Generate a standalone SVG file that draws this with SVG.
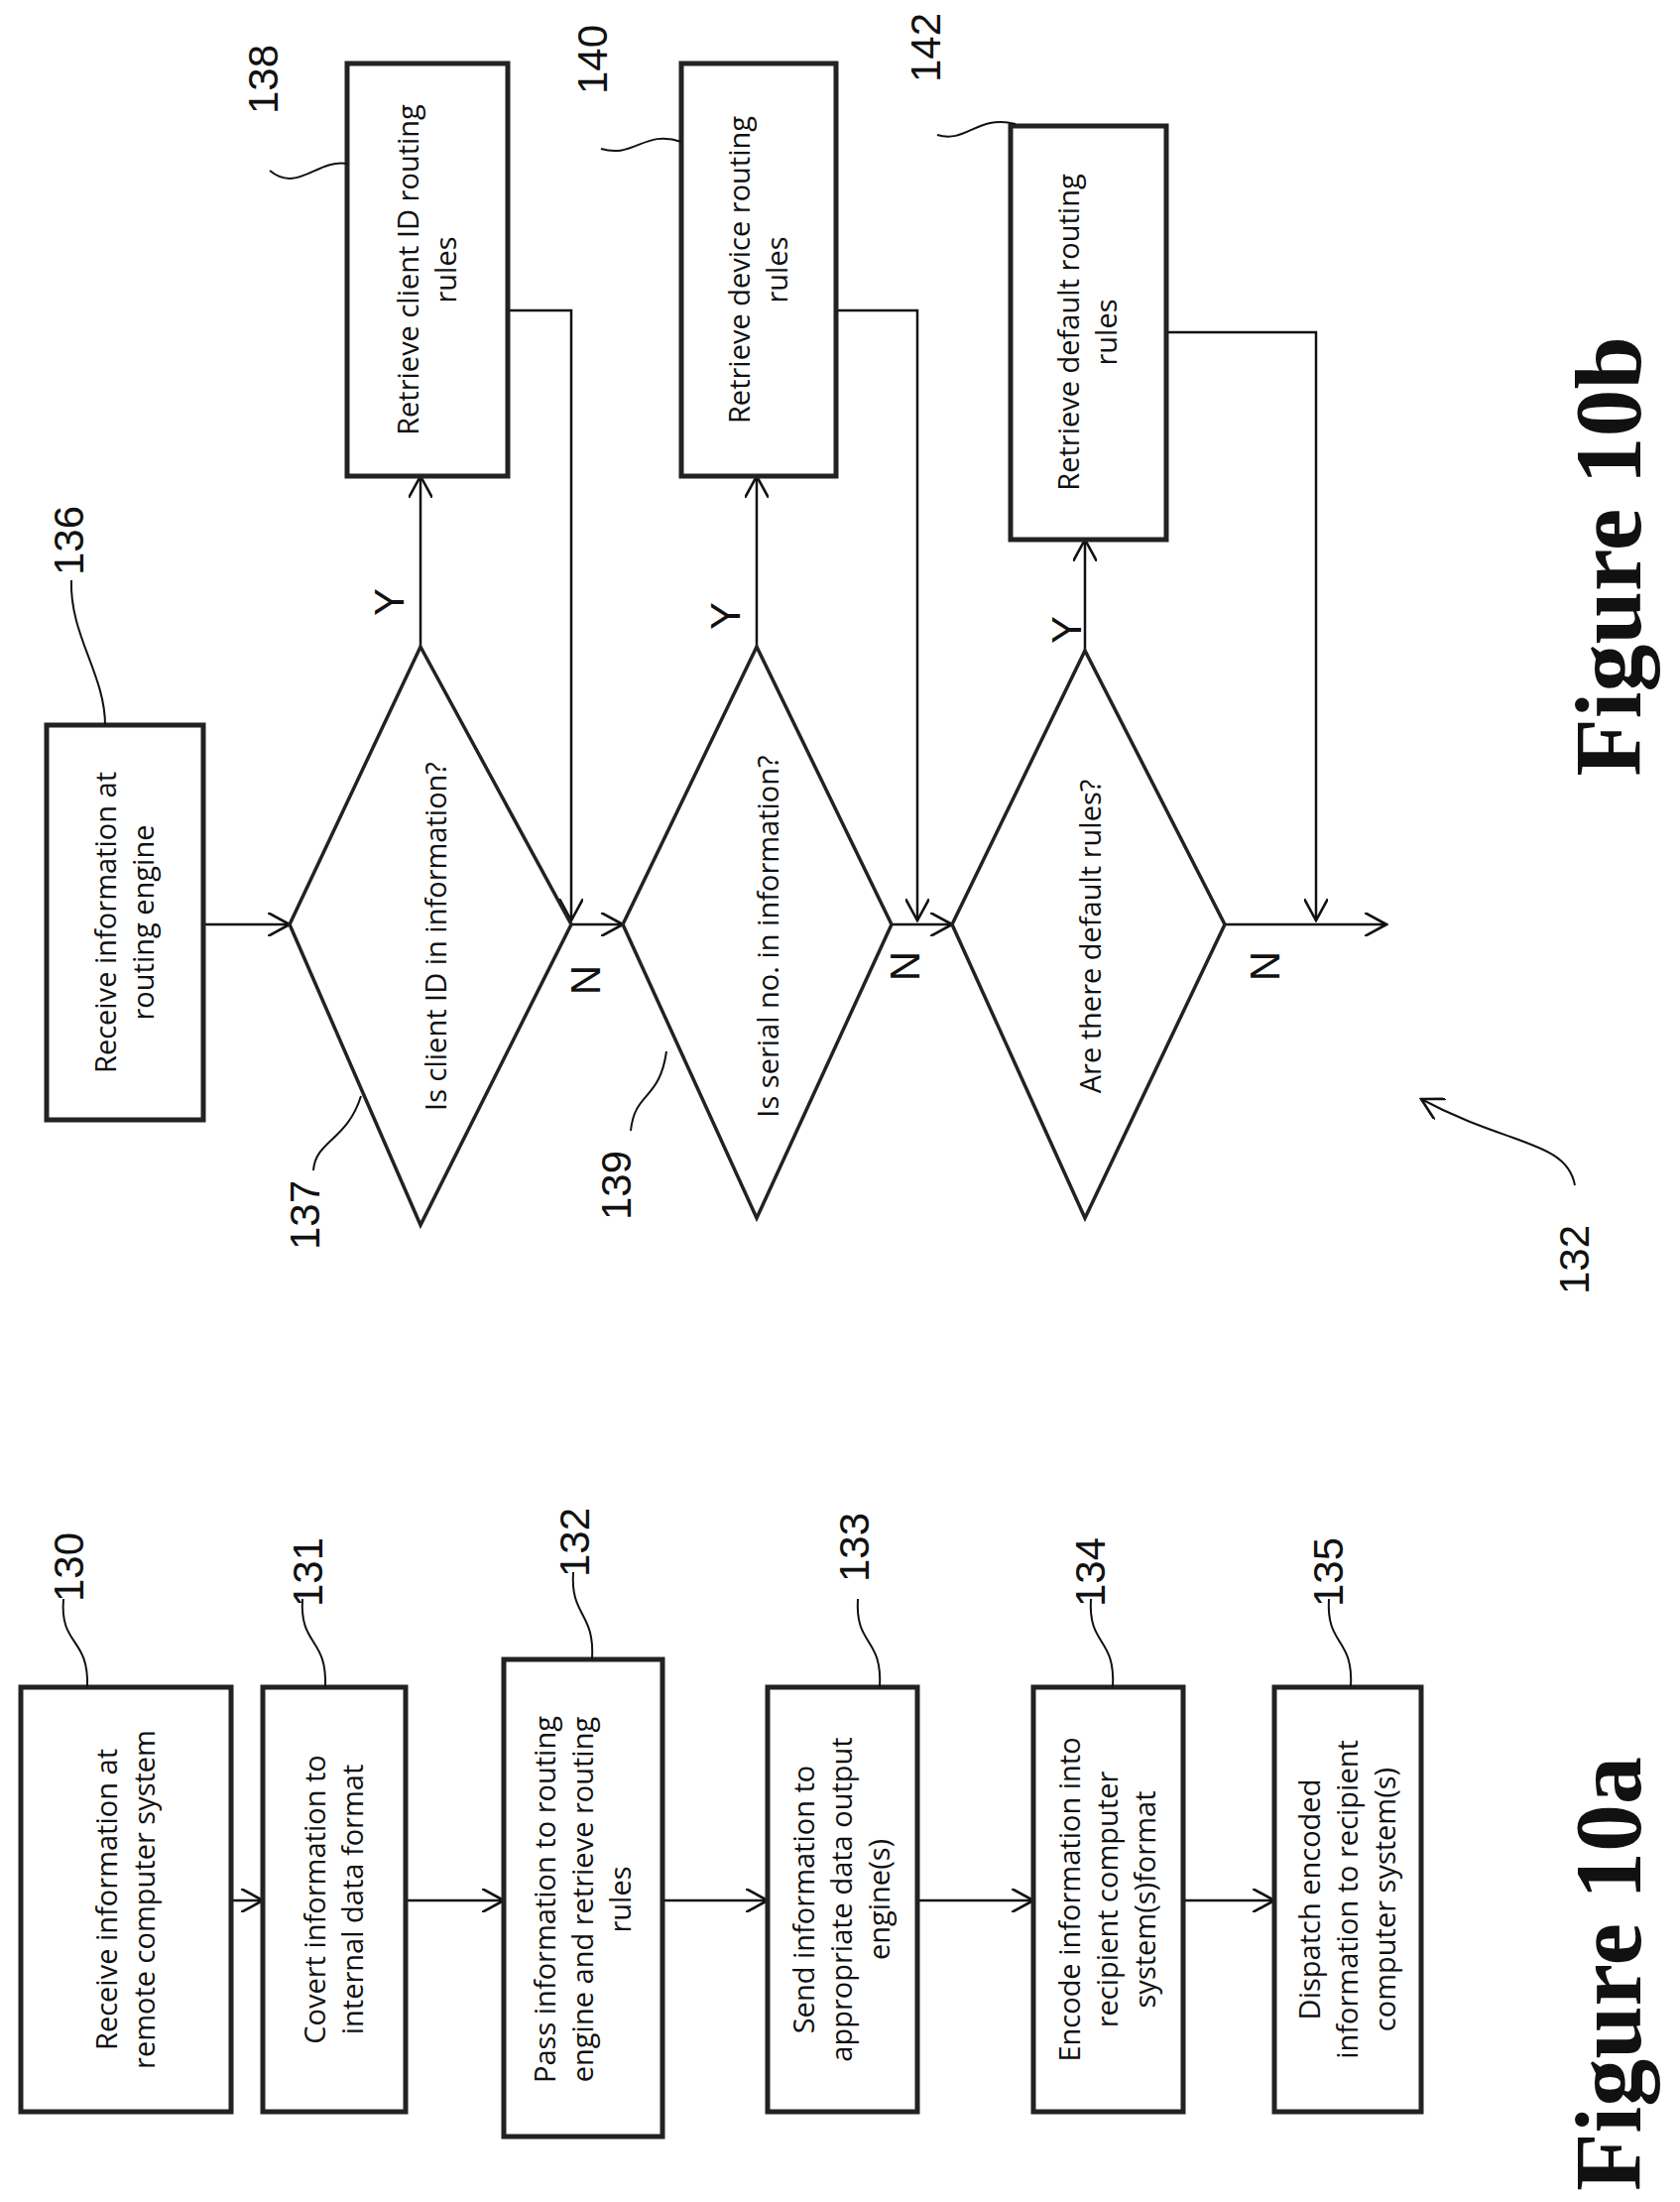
<svg xmlns="http://www.w3.org/2000/svg" width="1694" height="2220" viewBox="0 0 1694 2220">
<style>
.box{fill:#fff;stroke:#222;stroke-width:5}
.dia{fill:#fff;stroke:#222;stroke-width:3.5}
.c{fill:none;stroke:#111;stroke-width:2.5}
.ld{fill:none;stroke:#111;stroke-width:2}
.t{font-family:"Open Sans","Noto Sans",sans-serif;font-size:29px;fill:#111;text-anchor:middle}
.lb{font-family:"Liberation Sans",Arial,sans-serif;font-size:42px;fill:#111;text-anchor:middle}
.fig{font-family:"Liberation Serif","Times New Roman",serif;font-weight:bold;font-size:96px;fill:#111;text-anchor:middle}
</style>
<defs>
<marker id="a" viewBox="0 0 12 12" refX="11" refY="6" markerWidth="24" markerHeight="24" markerUnits="userSpaceOnUse" orient="auto"><path d="M0,0 L11,6 L0,12" fill="none" stroke="#111" stroke-width="1.3"/></marker>
</defs>
<g id="connectors">
<path class="c" d="M233,1916 H265" marker-end="url(#a)"/>
<path class="c" d="M409,1916 H508" marker-end="url(#a)"/>
<path class="c" d="M668,1916 H774" marker-end="url(#a)"/>
<path class="c" d="M925,1916 H1042" marker-end="url(#a)"/>
<path class="c" d="M1193,1916 H1285" marker-end="url(#a)"/>
<path class="c" d="M205,932 H292" marker-end="url(#a)"/>
<path class="c" d="M424,652 V480" marker-end="url(#a)"/>
<path class="c" d="M512,313 H576 V928" marker-end="url(#a)"/>
<path class="c" d="M576,932 H628" marker-end="url(#a)"/>
<path class="c" d="M763,652 V480" marker-end="url(#a)"/>
<path class="c" d="M843,313 H925 V928" marker-end="url(#a)"/>
<path class="c" d="M899,932 H960" marker-end="url(#a)"/>
<path class="c" d="M1094,656 V544" marker-end="url(#a)"/>
<path class="c" d="M1176,335 H1327 V928" marker-end="url(#a)"/>
<path class="c" d="M1235,932 H1398" marker-end="url(#a)"/>
<text class="lb" transform="translate(407,607) rotate(-90)" font-size="34">Y</text>
<text class="lb" transform="translate(746,621) rotate(-90)" font-size="34">Y</text>
<text class="lb" transform="translate(1090,635) rotate(-90)" font-size="34">Y</text>
<text class="lb" transform="translate(605,988) rotate(-90)" font-size="34">N</text>
<text class="lb" transform="translate(927,974) rotate(-90)" font-size="34">N</text>
<text class="lb" transform="translate(1290,974) rotate(-90)" font-size="34">N</text>
</g>
<g id="n130"><rect class="box" x="21" y="1701" width="212" height="428"/>
<text class="t" transform="translate(127,1915) rotate(-90)"><tspan x="0" dy="-9">Receive information at</tspan><tspan x="0" dy="38">remote computer system</tspan></text>
<path class="ld" d="M88,1701 C90,1650 60,1660 64,1612"/><text class="lb" transform="translate(84,1580) rotate(-90)">130</text></g>
<g id="n131"><rect class="box" x="265" y="1701" width="144" height="428"/>
<text class="t" transform="translate(337,1915) rotate(-90)"><tspan x="0" dy="-9">Covert information to</tspan><tspan x="0" dy="38">internal data format</tspan></text>
<path class="ld" d="M328,1701 C330,1650 302,1660 305,1612"/><text class="lb" transform="translate(325,1585) rotate(-90)">131</text></g>
<g id="n132"><rect class="box" x="508" y="1673" width="160" height="481"/>
<text class="t" transform="translate(588,1915) rotate(-90)"><tspan x="0" dy="-28">Pass information to routing</tspan><tspan x="0" dy="38">engine and retrieve routing</tspan><tspan x="0" dy="38">rules</tspan></text>
<path class="ld" d="M597,1673 C600,1625 575,1630 578,1585"/><text class="lb" transform="translate(594,1555) rotate(-90)">132</text></g>
<g id="n133"><rect class="box" x="774" y="1701" width="151" height="428"/>
<text class="t" transform="translate(849,1915) rotate(-90)"><tspan x="0" dy="-28">Send information to</tspan><tspan x="0" dy="38">appropriate data output</tspan><tspan x="0" dy="38">engine(s)</tspan></text>
<path class="ld" d="M887,1701 C890,1650 862,1660 865,1612"/><text class="lb" transform="translate(876,1560) rotate(-90)">133</text></g>
<g id="n134"><rect class="box" x="1042" y="1701" width="151" height="428"/>
<text class="t" transform="translate(1117,1915) rotate(-90)"><tspan x="0" dy="-28">Encode information into</tspan><tspan x="0" dy="38">recipient computer</tspan><tspan x="0" dy="38">system(s)format</tspan></text>
<path class="ld" d="M1122,1701 C1125,1650 1097,1660 1100,1612"/><text class="lb" transform="translate(1114,1585) rotate(-90)">134</text></g>
<g id="n135"><rect class="box" x="1285" y="1701" width="148" height="428"/>
<text class="t" transform="translate(1359,1915) rotate(-90)"><tspan x="0" dy="-28">Dispatch encoded</tspan><tspan x="0" dy="38">information to recipient</tspan><tspan x="0" dy="38">computer system(s)</tspan></text>
<path class="ld" d="M1362,1701 C1365,1650 1337,1660 1340,1612"/><text class="lb" transform="translate(1354,1585) rotate(-90)">135</text></g>
<g id="fig10a"><text class="fig" transform="translate(1654,1990) rotate(-90)">Figure 10a</text></g>
<g id="n136"><rect class="box" x="47" y="731" width="158" height="398"/>
<text class="t" transform="translate(126,930) rotate(-90)"><tspan x="0" dy="-9">Receive information at</tspan><tspan x="0" dy="38">routing engine</tspan></text>
<path class="ld" d="M106,731 C106,680 70,640 72,585"/><text class="lb" transform="translate(84,545) rotate(-90)">136</text></g>
<g id="n137"><path class="dia" d="M292,932 L424,652 L576,932 L424,1235 Z"/>
<text class="t" transform="translate(450,944) rotate(-90)">Is client ID in information?</text>
<path class="ld" d="M364,1105 C350,1150 318,1150 316,1180"/><text class="lb" transform="translate(322,1225) rotate(-90)">137</text></g>
<g id="n138"><rect class="box" x="350" y="64" width="162" height="416"/>
<text class="t" transform="translate(431,272) rotate(-90)"><tspan x="0" dy="-9">Retrieve client ID routing</tspan><tspan x="0" dy="38">rules</tspan></text>
<path class="ld" d="M350,165 C320,160 300,195 272,172"/><text class="lb" transform="translate(280,80) rotate(-90)">138</text></g>
<g id="n139"><path class="dia" d="M628,932 L763,652 L899,932 L763,1228 Z"/>
<text class="t" transform="translate(785,944) rotate(-90)">Is serial no. in information?</text>
<path class="ld" d="M672,1060 C665,1110 640,1100 636,1140"/><text class="lb" transform="translate(636,1195) rotate(-90)">139</text></g>
<g id="n140"><rect class="box" x="687" y="64" width="156" height="416"/>
<text class="t" transform="translate(765,272) rotate(-90)"><tspan x="0" dy="-9">Retrieve device routing</tspan><tspan x="0" dy="38">rules</tspan></text>
<path class="ld" d="M687,143 C650,130 640,160 606,150"/><text class="lb" transform="translate(612,60) rotate(-90)">140</text></g>
<g id="n141"><path class="dia" d="M960,932 L1094,656 L1235,932 L1094,1228 Z"/>
<text class="t" transform="translate(1110,944) rotate(-90)">Are there default rules?</text></g>
<g id="n142"><rect class="box" x="1019" y="127" width="157" height="417"/>
<text class="t" transform="translate(1097,335) rotate(-90)"><tspan x="0" dy="-9">Retrieve default routing</tspan><tspan x="0" dy="38">rules</tspan></text>
<path class="ld" d="M1024,125 C985,115 975,145 945,136"/><text class="lb" transform="translate(948,48) rotate(-90)">142</text></g>
<g id="ref132"><path class="ld" d="M1588,1195 C1580,1150 1520,1155 1433,1108" marker-end="url(#a)"/><text class="lb" transform="translate(1602,1270) rotate(-90)">132</text></g>
<g id="fig10b"><text class="fig" transform="translate(1654,561) rotate(-90)">Figure 10b</text></g>
</svg>
